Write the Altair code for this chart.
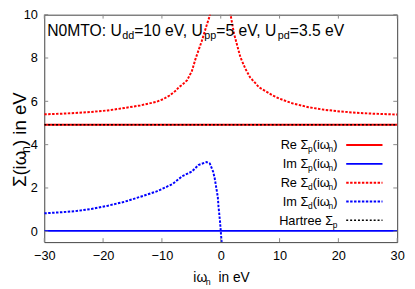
import altair as alt
import pandas as pd

# ---------------- data ----------------
x_ticks = [-30, -20, -10, 0, 10, 20, 30]
y_ticks = [0, 2, 4, 6, 8, 10]

# Re Sigma_p (flat) and Hartree Sigma_p
re_p_x = [-30, -15, 0, 15, 30]
re_p_y = [4.92, 4.92, 4.92, 4.92, 4.92]
hartree_x = [-30, 30]
hartree_y = [4.92, 4.92]

# Im Sigma_p (flat ~0)
im_p_x = [-30, -15, 0, 15, 30]
im_p_y = [0.02, 0.02, 0.02, 0.02, 0.02]

# Re Sigma_d
re_d_x = [-30, -27, -24.7, -22, -19.2, -16.4, -13.7, -10.9, -9.8, -8.7, -7.6, -7.1,
          -6.55, -5.7, -4.9, -4.3, -3.25, -2.42, -1.86, -1.0, -0.3,
          0.3, 1.0, 1.7, 2.26, 3.35, 4.2, 5.0, 5.82, 6.5, 7.75, 8.85, 9.94,
          12.15, 14.9, 17.6, 20.4, 23.1, 25.9, 30]
re_d_y = [5.40, 5.43, 5.46, 5.51, 5.58, 5.69, 5.81, 5.98, 6.10, 6.27, 6.50, 6.66,
          6.76, 6.98, 7.40, 7.95, 8.76, 9.49, 9.95, 11.5, 13.0,
          13.0, 11.5, 9.95, 9.12, 8.03, 7.50, 7.10, 6.86, 6.65, 6.45, 6.27, 6.13,
          5.91, 5.73, 5.61, 5.53, 5.47, 5.43, 5.39]

# Im Sigma_d
im_d_x = [-30, -27, -24.7, -22, -19.2, -16.4, -13.7, -10.9, -8.2, -6.55, -4.9, -3.8,
          -2.4, -1.86, -1.3, -1.04, -0.77, -0.5, -0.38, -0.11, 0.05, 0.3]
im_d_y = [0.83, 0.88, 0.93, 1.03, 1.18, 1.36, 1.59, 1.84, 2.18, 2.54, 2.76, 3.06,
          3.20, 3.13, 2.76, 2.47, 2.03, 1.59, 1.15, 0.42, -0.16, -1.0]

# ---------------- styling ----------------
FONT = "Liberation Sans"
W, H = 360, 232
RED, BLUE = "#ff0000", "#0000ff"
FRAME, TICK = "#404040", "#888888"

W_TABLE = {
    "N": .722, "0": .556, "M": .833, "T": .611, "O": .778, ":": .278, " ": .278,
    "U": .722, "d": .556, "p": .556, "=": .584, "1": .556, "e": .556, "V": .667,
    "v": .5, ",": .278, "5": .556, "3": .556, ".": .278, "R": .722, "I": .278,
    "m": .833, "Σ": .593, "(": .333, "i": .222, "ω": .689, "n": .556, ")": .333,
    "H": .722, "a": .556, "r": .333, "t": .278,
}


def tw(s, size):
    return sum(W_TABLE.get(c, 0.556) for c in s) * size


one = pd.DataFrame({"a": [0]})


def rich(pieces, x0, y0, size, sub_size, sub_shift, angle=0):
    layers = []
    off = 0.0
    for txt, sub in pieces:
        fs = sub_size if sub else size
        lead = len(txt) - len(txt.lstrip(" "))
        off += lead * W_TABLE[" "] * fs
        t = txt.lstrip(" ")
        if angle == 0:
            x, y = x0 + off, y0 + (sub_shift if sub else 0)
        else:
            x, y = x0 + (sub_shift if sub else 0), y0 - off
        kw = dict(text=t, align="left", baseline="alphabetic", font=FONT,
                  fontSize=fs, color="black")
        if angle:
            kw["angle"] = angle
        layers.append(alt.Chart(one).mark_text(**kw).encode(
            x=alt.value(x), y=alt.value(y)))
        off += tw(t, fs)
    return layers


def width_of(pieces, size, sub_size):
    return sum(tw(t, sub_size if s else size) for t, s in pieces)


xscale = alt.Scale(domain=[-30, 30], nice=False, zero=False)
yscale = alt.Scale(domain=[-0.5, 10], nice=False, zero=False)
xaxis = alt.Axis(values=x_ticks, ticks=False, domain=False, grid=False,
                 labelFont=FONT, labelFontSize=13, labelColor="black",
                 labelPadding=8, labelFlush=False, title="")
yaxis = alt.Axis(values=y_ticks, ticks=False, domain=False, grid=False,
                 labelFont=FONT, labelFontSize=13, labelColor="black",
                 labelPadding=7, title="")


def X():
    return alt.X("x:Q", scale=xscale, axis=xaxis, title="")


def Y():
    return alt.Y("y:Q", scale=yscale, axis=yaxis, title="")


def line(xs, ys, color, width, dash=None):
    kw = dict(color=color, strokeWidth=width, clip=True)
    if dash:
        kw["strokeDash"] = dash
    return alt.Chart(pd.DataFrame({"x": xs, "y": ys})).mark_line(**kw).encode(
        x=X(), y=Y())


DOT = [2.5, 1.5]
layers = [
    line(re_p_x, re_p_y, RED, 2),
    line(im_p_x, im_p_y, BLUE, 2),
    line(re_d_x, re_d_y, RED, 2, DOT),
    line(im_d_x, im_d_y, BLUE, 2, DOT),
    line(hartree_x, hartree_y, "black", 1.5, [2, 2]),
]

# inward ticks on all four sides
xt = pd.DataFrame({"x": x_ticks})
yt = pd.DataFrame({"y": y_ticks})
layers += [
    alt.Chart(xt).mark_rule(color=TICK).encode(x=X(), y=alt.value(H), y2=alt.value(H - 4)),
    alt.Chart(xt).mark_rule(color=TICK).encode(x=X(), y=alt.value(0), y2=alt.value(4)),
    alt.Chart(yt).mark_rule(color=TICK).encode(y=Y(), x=alt.value(0), x2=alt.value(4)),
    alt.Chart(yt).mark_rule(color=TICK).encode(y=Y(), x=alt.value(W - 4), x2=alt.value(W)),
]

# title inside plot
title_pieces = [("N0MTO: U", False), ("dd", True), ("=10 eV, U", False), ("pp", True),
                ("=5 eV, U", False), ("pd", True), ("=3.5 eV", False)]
layers += rich(title_pieces, 3, 21.5, 16, 11, 3)

# legend
legend = [
    ([("Re Σ", False), ("p", True), ("(iω", False), ("n", True), (")", False)], RED, None, 2),
    ([("Im Σ", False), ("p", True), ("(iω", False), ("n", True), (")", False)], BLUE, None, 2),
    ([("Re Σ", False), ("d", True), ("(iω", False), ("n", True), (")", False)], RED, DOT, 2),
    ([("Im Σ", False), ("d", True), ("(iω", False), ("n", True), (")", False)], BLUE, DOT, 2),
    ([("Hartree Σ", False), ("p", True)], "black", [2, 2], 1.5),
]
row0, step = 133, 19.2
text_right = 299
for i, (pieces, col, dash, sw) in enumerate(legend):
    ry = row0 + i * step
    wdt = width_of(pieces, 13, 8.5)
    layers += rich(pieces, text_right - wdt, ry + 4.5, 13, 8.5, 3)
    kw = dict(color=col, strokeWidth=sw)
    if dash:
        kw["strokeDash"] = dash
    layers.append(alt.Chart(one).mark_rule(**kw).encode(
        x=alt.value(308), x2=alt.value(345), y=alt.value(ry)))

# axis titles
xt_pieces = [("iω", False), ("n", True), ("  in eV", False)]
xw = width_of(xt_pieces, 14, 9)
layers += rich(xt_pieces, 180.8 - xw / 2, 273, 14, 9, 3)

yt_pieces = [("Σ(iω", False), ("n", True), (") in eV", False)]
yw = width_of(yt_pieces, 19, 12.5)
layers += rich(yt_pieces, -19, 127.5 + yw / 2, 19, 12.5, 4, angle=270)

chart = alt.layer(*layers).properties(
    width=W, height=H,
    autosize=alt.AutoSizeParams(type="none"),
    padding={"left": 37, "top": 4, "right": 10, "bottom": 45},
).configure_view(stroke=FRAME, strokeWidth=1)

chart.save("out.html", embed_options={"renderer": "svg", "actions": False})
